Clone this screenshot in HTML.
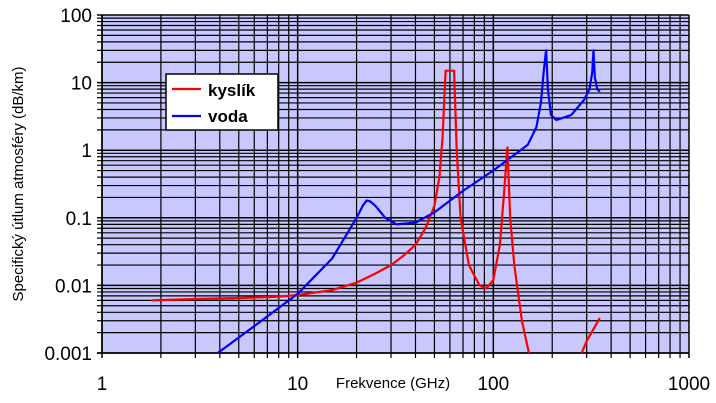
<!DOCTYPE html>
<html><head><meta charset="utf-8"><style>
body{margin:0;background:#fff;}
svg{display:block;font-family:"Liberation Sans",Arial,sans-serif;}
</style></head><body>
<svg id="chart" width="716" height="403"></svg>
<script>
const xTicks=[1,10,100,1000];
const xTickLabels=["1","10","100","1000"];
const yTicks=[0.001,0.01,0.1,1,10,100];
const yTickLabels=["0.001","0.01","0.1","1","10","100"];
const oxygenFreq=[1.8,3,5,8,10,15,20,25,30,35,40,45,50,53,55,57,63,65,68,75,85,92,100,108,113,118,122,128,140,152];
const oxygenVal=[0.006,0.0063,0.0065,0.0068,0.0072,0.0085,0.011,0.015,0.02,0.028,0.04,0.07,0.15,0.4,1.5,15,15,1,0.1,0.02,0.01,0.009,0.012,0.04,0.2,1.1,0.1,0.02,0.003,0.001];
const oxygenFreq2=[283,300,350];
const oxygenVal2=[0.001,0.0015,0.0033];
const waterFreq=[3.9,6,10,15,18,20,21.5,22.5,23.5,25,28,32,40,50,70,100,150,166,175,181,186,190,197,210,250,290,310,320,325,330,340,350];
const waterVal=[0.001,0.0025,0.0075,0.025,0.06,0.1,0.15,0.18,0.175,0.15,0.1,0.08,0.085,0.12,0.25,0.5,1.2,2.2,5,15,30,8,3.3,2.8,3.3,5.5,8,14,30,12,8,7.3];
const L=102,R=689,T=15,B=353;
const NS="http://www.w3.org/2000/svg";
const svg=document.getElementById('chart');
function X(f){return L+(Math.log10(f)-0)/3*(R-L);}
function Y(v){return T+(2-Math.log10(v))/5*(B-T);}
function el(t,a){const e=document.createElementNS(NS,t);for(const k in a)e.setAttribute(k,a[k]);svg.appendChild(e);return e;}
const bg=el('rect',{x:L,y:T,width:R-L,height:B-T,fill:'#c8c8ff'});


for(let d=0;d<3;d++)for(let m=1;m<=9;m++){const x=X(m*Math.pow(10,d));
 const g=el('line',{x1:x,x2:x,y1:T,y2:B+5,stroke:'#000','stroke-width':m==1?1.5:1.2});
 
 }
for(let d=-3;d<2;d++)for(let m=1;m<=9;m++){const y=Y(m*Math.pow(10,d));
 const g=el('line',{x1:L-5,x2:R,y1:y,y2:y,stroke:'#000','stroke-width':m==1?1.5:1.2});
 
 }
el('line',{x1:L,x2:L,y1:T,y2:B,stroke:'#000','stroke-width':1.5});
el('line',{x1:L-5,x2:R,y1:B,y2:B,stroke:'#000','stroke-width':1.5});
el('line',{x1:R,x2:R,y1:T,y2:B+5,stroke:'#000','stroke-width':1.5});
el('line',{x1:L-5,x2:R,y1:T,y2:T,stroke:'#000','stroke-width':1.5});
xTicks.forEach((v,i)=>{const t=el('text',{x:X(v),y:390,'font-size':19,'text-anchor':'middle',fill:'#000'});t.textContent=xTickLabels[i];
 
 });
yTicks.forEach((v,i)=>{const t=el('text',{x:L-10,y:Y(v)+7,'font-size':19,'text-anchor':'end',fill:'#000'});t.textContent=yTickLabels[i];
 
 });
function line(fs,vs,c,name){const p=fs.map((f,i)=>X(f).toFixed(1)+','+Y(vs[i]).toFixed(1)).join(' ');
 const e=el('polyline',{points:p,fill:'none',stroke:c,'stroke-width':2.2,'stroke-linejoin':'round'});
 
 }
line(oxygenFreq,oxygenVal,'#ff0000','oxygen-series');
line(oxygenFreq2,oxygenVal2,'#ff0000','oxygen-series-high');
line(waterFreq,waterVal,'#0000ff','water-series');
const xt=el('text',{x:393,y:388,'font-size':15,'text-anchor':'middle',fill:'#000'});xt.textContent='Frekvence (GHz)';


const yt=el('text',{x:0,y:0,'font-size':15,'text-anchor':'middle',fill:'#000',transform:'translate(23,184) rotate(-90)'});yt.textContent='Specifický útlum atmosféry (dB/km)';


const lg=el('rect',{x:166,y:74,width:112,height:56,fill:'#fff',stroke:'#000','stroke-width':1.5});


el('line',{x1:172,x2:201,y1:89,y2:89,stroke:'#ff0000','stroke-width':2.2});
el('line',{x1:172,x2:201,y1:116,y2:116,stroke:'#0000ff','stroke-width':2.2});
const l1=el('text',{x:208,y:96,'font-size':17,'font-weight':'bold',fill:'#000'});l1.textContent='kyslík';


const l2=el('text',{x:208,y:122,'font-size':17,'font-weight':'bold',fill:'#000'});l2.textContent='voda';


</script>
</body></html>
